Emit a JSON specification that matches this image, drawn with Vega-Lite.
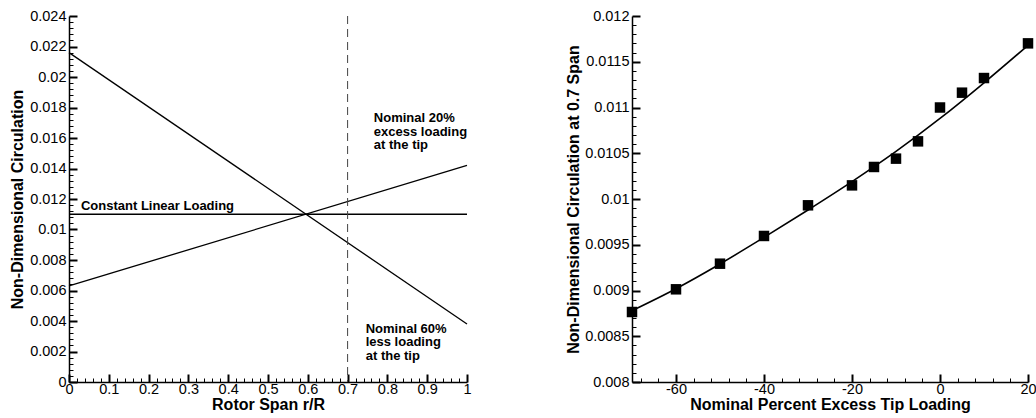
{
  "$schema": "https://vega.github.io/schema/vega-lite/v6.json",
  "background": "white",
  "padding": {"left": 9, "top": 8, "right": 0, "bottom": 0},
  "bounds": "flush",
  "spacing": 165,
  "config": {
    "view": {"stroke": null},
    "font": "Liberation Sans",
    "axis": {
      "grid": false,
      "domainColor": "black",
      "domainWidth": 1.5,
      "tickColor": "black",
      "labelFont": "Liberation Sans",
      "labelFontSize": 14.5,
      "labelColor": "black",
      "labelOverlap": false,
      "labelFlush": false,
      "titleFont": "Liberation Sans",
      "titleFontSize": 16,
      "titleFontWeight": "bold",
      "titleColor": "black"
    }
  },
  "datasets": {
    "lines": [
      {"series": "constant", "r": 0, "gamma": 0.011},
      {"series": "constant", "r": 1, "gamma": 0.011},
      {"series": "excess", "r": 0, "gamma": 0.0063},
      {"series": "excess", "r": 1, "gamma": 0.0142},
      {"series": "less", "r": 0, "gamma": 0.0216},
      {"series": "less", "r": 1, "gamma": 0.0038}
    ],
    "notesLeft": [
      {"label": "Constant Linear Loading", "r": 0.03, "gamma": 0.01193},
      {"label": "Nominal 20%\nexcess loading\nat the tip", "r": 0.766, "gamma": 0.0177},
      {"label": "Nominal 60%\nless loading\nat the tip", "r": 0.7455, "gamma": 0.0039}
    ],
    "points": [
      {"pct": -70, "gamma": 0.008765},
      {"pct": -60, "gamma": 0.009013},
      {"pct": -50, "gamma": 0.009293},
      {"pct": -40, "gamma": 0.009596},
      {"pct": -30, "gamma": 0.009931},
      {"pct": -20, "gamma": 0.010149},
      {"pct": -15, "gamma": 0.01035},
      {"pct": -10, "gamma": 0.010441},
      {"pct": -5, "gamma": 0.01063},
      {"pct": 0, "gamma": 0.011},
      {"pct": 5, "gamma": 0.011162},
      {"pct": 10, "gamma": 0.011322},
      {"pct": 20, "gamma": 0.011701}
    ],
    "fit": [
      {"pct": -70, "gamma": 0.00878},
      {"pct": -60, "gamma": 0.00902},
      {"pct": -50, "gamma": 0.00929},
      {"pct": -40, "gamma": 0.00958},
      {"pct": -30, "gamma": 0.00988},
      {"pct": -20, "gamma": 0.01019},
      {"pct": -10, "gamma": 0.01052},
      {"pct": 0, "gamma": 0.01088},
      {"pct": 10, "gamma": 0.01127},
      {"pct": 20, "gamma": 0.01168}
    ]
  },
  "hconcat": [
    {
      "width": 398,
      "height": 366,
      "resolve": {"axis": {"x": "independent", "y": "independent"}},
      "layer": [
        {
          "data": {"name": "lines"},
          "mark": {"type": "line", "color": "black", "strokeWidth": 1.3},
          "encoding": {
            "x": {
              "field": "r", "type": "quantitative",
              "scale": {"domain": [0, 1], "nice": false, "zero": false},
              "axis": {
                "orient": "bottom",
                "offset": 0,
                "title": "Rotor Span r/R",
                "values": [0, 0.1, 0.2, 0.3, 0.4, 0.5, 0.6, 0.7, 0.8, 0.9, 1],
                "tickSize": -8,
                "tickWidth": 2,
                "labelExpr": "'' + round(datum.value*10)/10",
                "labelOverlap": false,
                "labelPadding": 8,
                "titlePadding": 1
              }
            },
            "y": {
              "field": "gamma", "type": "quantitative",
              "scale": {"domain": [0, 0.024], "nice": false},
              "axis": {
                "orient": "left",
                "offset": 0,
                "title": "Non-Dimensional Circulation",
                "values": [0, 0.002, 0.004, 0.006, 0.008, 0.01, 0.012, 0.014, 0.016, 0.018, 0.02, 0.022, 0.024],
                "tickSize": -8,
                "tickWidth": 2,
                "labelExpr": "'' + round(datum.value*1000)/1000",
                "labelOverlap": false,
                "labelPadding": 11,
                "titlePadding": 4
              }
            },
            "detail": {"field": "series"}
          }
        },
        {
          "data": {"values": [{}]},
          "mark": {"type": "rule", "strokeDash": [8, 5], "color": "#444", "strokeWidth": 1},
          "encoding": {"x": {"datum": 0.7, "type": "quantitative", "axis": null}}
        },
        {
          "data": {"name": "notesLeft"},
          "mark": {"type": "text", "align": "left", "baseline": "top", "fontWeight": "bold", "fontSize": 13, "lineBreak": "\n", "lineHeight": 13.5, "color": "black"},
          "encoding": {
            "x": {
              "field": "r", "type": "quantitative",
              "axis": {
                "orient": "bottom", "offset": 0, "title": null, "labels": false, "domain": false,
                "tickSize": -4, "tickWidth": 1,
                "values": [0.02, 0.04, 0.06, 0.08, 0.12, 0.14, 0.16, 0.18, 0.22, 0.24, 0.26, 0.28, 0.32, 0.34, 0.36, 0.38, 0.42, 0.44, 0.46, 0.48, 0.52, 0.54, 0.56, 0.58, 0.62, 0.64, 0.66, 0.68, 0.72, 0.74, 0.76, 0.78, 0.82, 0.84, 0.86, 0.88, 0.92, 0.94, 0.96, 0.98]
              }
            },
            "y": {
              "field": "gamma", "type": "quantitative",
              "axis": {
                "orient": "left", "offset": 0, "title": null, "labels": false, "domain": false,
                "tickSize": -4, "tickWidth": 1,
                "values": [0.0004, 0.0008, 0.0012, 0.0016, 0.0024, 0.0028, 0.0032, 0.0036, 0.0044, 0.0048, 0.0052, 0.0056, 0.0064, 0.0068, 0.0072, 0.0076, 0.0084, 0.0088, 0.0092, 0.0096, 0.0104, 0.0108, 0.0112, 0.0116, 0.0124, 0.0128, 0.0132, 0.0136, 0.0144, 0.0148, 0.0152, 0.0156, 0.0164, 0.0168, 0.0172, 0.0176, 0.0184, 0.0188, 0.0192, 0.0196, 0.0204, 0.0208, 0.0212, 0.0216, 0.0224, 0.0228, 0.0232, 0.0236]
              }
            },
            "text": {"field": "label"}
          }
        }
      ]
    },
    {
      "width": 396,
      "height": 366,
      "resolve": {"axis": {"x": "independent", "y": "independent"}},
      "layer": [
        {
          "data": {"name": "fit"},
          "mark": {"type": "line", "color": "black", "strokeWidth": 1.6, "interpolate": "monotone"},
          "encoding": {
            "x": {
              "field": "pct", "type": "quantitative",
              "scale": {"domain": [-70, 20], "nice": false, "zero": false},
              "axis": {
                "orient": "bottom",
                "offset": 0,
                "title": "Nominal Percent Excess Tip Loading",
                "values": [-60, -40, -20, 0, 20],
                "tickSize": -8,
                "tickWidth": 2,
                "labelExpr": "'' + datum.value",
                "labelOverlap": false,
                "labelPadding": 8,
                "titlePadding": 1
              }
            },
            "y": {
              "field": "gamma", "type": "quantitative",
              "scale": {"domain": [0.008, 0.012], "nice": false, "zero": false},
              "axis": {
                "orient": "left",
                "offset": 0,
                "title": "Non-Dimensional Circulation at 0.7 Span",
                "values": [0.008, 0.0085, 0.009, 0.0095, 0.01, 0.0105, 0.011, 0.0115, 0.012],
                "tickSize": -8,
                "tickWidth": 2,
                "labelExpr": "'' + round(datum.value*100000)/100000",
                "labelOverlap": false,
                "labelPadding": 11,
                "titlePadding": 3
              }
            }
          }
        },
        {
          "data": {"name": "points"},
          "mark": {"type": "square", "filled": true, "color": "black", "size": 110, "opacity": 1},
          "encoding": {
            "x": {
              "field": "pct", "type": "quantitative",
              "axis": {
                "orient": "bottom", "offset": 0, "title": null, "labels": false, "domain": false,
                "tickSize": -4, "tickWidth": 1,
                "values": [-68, -64, -56, -52, -48, -44, -36, -32, -28, -24, -16, -12, -8, -4, 4, 8, 12, 16]
              }
            },
            "y": {
              "field": "gamma", "type": "quantitative",
              "axis": {
                "orient": "left", "offset": 0, "title": null, "labels": false, "domain": false,
                "tickSize": -4, "tickWidth": 1,
                "values": [0.0081, 0.0082, 0.0083, 0.0084, 0.0086, 0.0087, 0.0088, 0.0089, 0.0091, 0.0092, 0.0093, 0.0094, 0.0096, 0.0097, 0.0098, 0.0099, 0.0101, 0.0102, 0.0103, 0.0104, 0.0106, 0.0107, 0.0108, 0.0109, 0.0111, 0.0112, 0.0113, 0.0114, 0.0116, 0.0117, 0.0118, 0.0119]
              }
            }
          }
        }
      ]
    }
  ]
}
